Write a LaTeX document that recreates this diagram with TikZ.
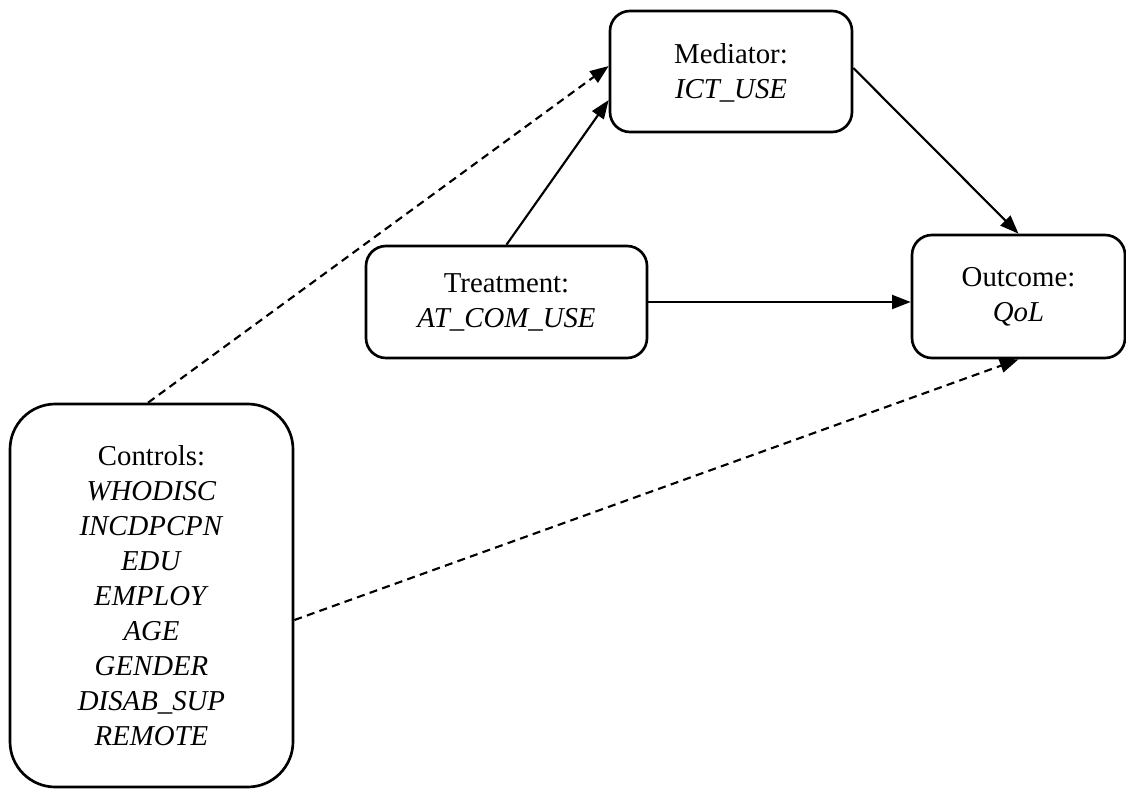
\documentclass[tikz,border=0pt]{standalone}
\usepackage{fontspec}
\setmainfont{Liberation Serif}
\usetikzlibrary{arrows.meta,calc}
\begin{document}
\begin{tikzpicture}[x=0.75pt,y=-0.75pt,
  box/.style={draw,line width=2pt,rounded corners=15pt,align=center,
    font=\fontsize{21.6}{26.25}\selectfont,inner sep=0pt},
  arr/.style={line width=1.6pt,-{Triangle[length=14pt,width=10.5pt]}},
  darr/.style={arr,dash pattern=on 6pt off 4pt}]
\useasboundingbox (0,0) rectangle (1126,788);
\node[box,minimum width=181.5pt,minimum height=90.75pt,text depth=-4pt] (med) at (731,71.5)
  {Mediator:\\\textit{ICT\_USE}};
\node[box,minimum width=210.75pt,minimum height=84pt] (treat) at (506.5,302)
  {Treatment:\\\textit{AT\_COM\_USE}};
\node[box,minimum width=159.75pt,minimum height=92.25pt] (out) at (1018.5,296.5)
  {Outcome:\\\textit{QoL}};
\node[box,rounded corners=34pt,minimum width=212.25pt,minimum height=287.25pt] (ctrl) at (151.5,595.5)
  {Controls:\\\textit{WHODISC}\\\textit{INCDPCPN}\\\textit{EDU}\\\textit{EMPLOY}\\\textit{AGE}\\\textit{GENDER}\\\textit{DISAB\_SUP}\\\textit{REMOTE}};
\draw[arr] (treat.north) -- ([yshift=-21.4pt]med.west);
\draw[arr] ([yshift=2.6pt]med.east) -- (out.north);
\draw[arr] (treat.east) -- (treat.east -| out.west);
\draw[darr] ([xshift=-2.6pt]ctrl.north) -- ([yshift=4.1pt]med.west);
\draw[darr] ([yshift=-18.4pt]ctrl.east) -- (out.south);
\end{tikzpicture}
\end{document}
